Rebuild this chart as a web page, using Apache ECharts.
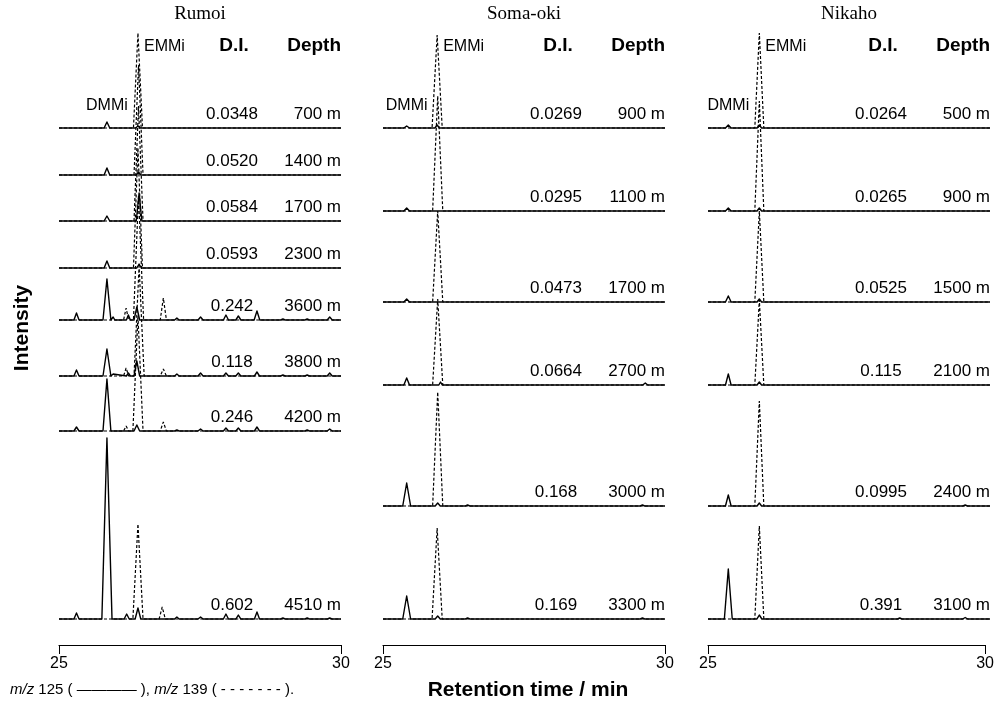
<!DOCTYPE html>
<html><head><meta charset="utf-8">
<script src="https://cdn.jsdelivr.net/npm/echarts@6/dist/echarts.min.js"></script>
<style>html,body{margin:0;padding:0;background:#fff}#c{width:997px;height:706px}</style>
</head><body><div id="c"></div>
<script>
// ---------------- DATA ----------------
const panelTitles = ['Rumoi', 'Soma-oki', 'Nikaho'];
const xTicks = [25, 30];

// Peaks per trace: [retention time (min), relative intensity, half width (min)]
const rumoiDepths = ['700 m','1400 m','1700 m','2300 m','3600 m','3800 m','4200 m','4510 m'];
const rumoiDI = ['0.0348','0.0520','0.0584','0.0593','0.242','0.118','0.246','0.602'];
const rumoi125 = [
  [[25.85,6,0.05],[26.40,2,0.04]],
  [[25.85,7,0.05],[26.41,3,0.04]],
  [[25.85,5,0.05],[26.42,28,0.05]],
  [[25.85,7,0.05],[26.42,4,0.04]],
  [[25.31,7,0.045],[25.85,41,0.07],[25.96,3,0.03],[26.23,5,0.035],[26.38,13,0.05],[27.09,2,0.04],[27.51,3,0.045],[27.96,5,0.045],[28.18,4,0.045],[28.51,9,0.05],[28.97,1,0.04],[29.40,1,0.04],[29.80,3,0.045]],
  [[25.31,6,0.045],[25.85,27,0.07],[25.96,2,0.03],[26.23,3,0.035],[26.38,15,0.05],[27.09,2,0.04],[27.51,3,0.045],[27.96,3,0.045],[28.18,3,0.045],[28.51,4,0.045],[28.97,1,0.04],[29.40,1,0.04],[29.80,3,0.045]],
  [[25.31,4,0.045],[25.85,52,0.07],[26.38,6,0.05],[27.09,1,0.04],[27.51,2,0.045],[27.96,3,0.045],[28.18,3,0.045],[28.51,4,0.045],[29.40,1,0.04],[29.80,2,0.045]],
  [[25.31,6,0.045],[25.85,181,0.09],[26.20,5,0.045],[26.40,11,0.05],[27.09,2,0.04],[27.51,2,0.045],[27.96,5,0.045],[28.18,4,0.045],[28.51,7,0.045],[28.97,1,0.04],[29.40,1,0.04],[29.80,1,0.04]]
];
const rumoi139 = [
  [[26.40,95,0.08]],
  [[26.41,110,0.08]],
  [[26.41,115,0.08]],
  [[26.40,120,0.08]],
  [[26.19,12,0.045],[26.41,125,0.09],[26.85,22,0.055]],
  [[26.19,8,0.045],[26.42,110,0.09],[26.85,7,0.055]],
  [[26.19,5,0.045],[26.40,115,0.09],[26.85,9,0.055]],
  [[26.40,95,0.09],[26.83,12,0.055]]
];

const somaDepths = ['900 m','1100 m','1700 m','2700 m','3000 m','3300 m'];
const somaDI = ['0.0269','0.0295','0.0473','0.0664','0.168','0.169'];
const soma125 = [
  [[25.42,2,0.05],[25.96,3,0.04]],
  [[25.42,3,0.05],[25.92,2,0.03],[26.02,2,0.03]],
  [[25.42,3,0.05],[25.92,2,0.03],[26.02,2,0.03]],
  [[25.42,7,0.05],[25.92,2,0.03],[26.02,3,0.03],[29.65,2,0.045]],
  [[25.42,23,0.07],[25.97,3,0.045],[26.50,1,0.04],[29.60,1,0.04]],
  [[25.42,23,0.07],[25.97,3,0.045],[26.50,1,0.04],[29.60,1,0.04]]
];
const soma139 = [
  [[25.96,93,0.09]],
  [[25.97,115,0.09]],
  [[25.97,91,0.09]],
  [[25.97,86,0.09]],
  [[25.97,114,0.09]],
  [[25.96,91,0.09]]
];

const nikahoDepths = ['500 m','900 m','1500 m','2100 m','2400 m','3100 m'];
const nikahoDI = ['0.0264','0.0265','0.0525','0.115','0.0995','0.391'];
const nikaho125 = [
  [[25.36,3,0.05],[25.91,3,0.04]],
  [[25.36,3,0.05],[25.91,3,0.04]],
  [[25.36,6,0.05],[25.91,3,0.04]],
  [[25.36,11,0.05],[25.91,3,0.04]],
  [[25.36,11,0.05],[25.91,3,0.04],[29.56,1,0.04]],
  [[25.36,50,0.07],[25.91,4,0.045],[28.40,1,0.04],[29.56,1.5,0.045]]
];
const nikaho139 = [
  [[25.91,95,0.08]],
  [[25.91,110,0.08]],
  [[25.91,91,0.08]],
  [[25.91,85,0.08]],
  [[25.91,105,0.08]],
  [[25.91,93,0.08]]
];
const peakNames = ['DMMi', 'EMMi'];
const peakRT = [[25.85, 26.40], [25.42, 25.96], [25.36, 25.91]];

// ---------------- LAYOUT ----------------
const panels = [
  {left: 59, baselines: [128,175,221,268,320,376,431,619], depths: rumoiDepths, di: rumoiDI, s125: rumoi125, s139: rumoi139},
  {left: 383, baselines: [128,211,302,385,506,619], depths: somaDepths, di: somaDI, s125: soma125, s139: soma139},
  {left: 708, baselines: [128,211,302,385,506,619], depths: nikahoDepths, di: nikahoDI, s125: nikaho125, s139: nikaho139}
];
const PW = 282, GH = 100, AXIS_Y = 645;
const FONT = '"Liberation Sans", Arial, sans-serif';
const SERIF = '"Liberation Serif", "Times New Roman", serif';

function trace(peaks) {
  const pts = [[25, 0]];
  peaks.slice().sort((a, b) => a[0] - b[0]).forEach(p => {
    pts.push([p[0] - p[2], 0], [p[0], p[1]], [p[0] + p[2], 0]);
  });
  pts.push([30, 0]);
  return pts;
}

const grid = [], xAxis = [], yAxis = [], series = [];
panels.forEach((p, pi) => {
  p.gridStart = grid.length;
  p.baselines.forEach((b, ti) => {
    const gi = grid.length;
    grid.push({left: p.left, width: PW, top: b - GH, height: GH, containLabel: false});
    xAxis.push({gridIndex: gi, type: 'value', min: 25, max: 30, show: false});
    yAxis.push({gridIndex: gi, type: 'value', min: 0, max: GH, show: false});
    series.push({type: 'line', xAxisIndex: gi, yAxisIndex: gi, data: trace(p.s125[ti]), showSymbol: false, clip: false,
      lineStyle: {color: '#000', width: 1.4, join: 'round'}, z: 2, silent: true, animation: false});
    series.push({type: 'line', xAxisIndex: gi, yAxisIndex: gi, data: trace(p.s139[ti]), showSymbol: false, clip: false,
      lineStyle: {color: '#000', width: 1.2, type: [3, 2]}, z: 3, silent: true, animation: false});
  });
  p.axisGrid = grid.length;
  grid.push({left: p.left, width: PW, top: AXIS_Y - 20, height: 20});
  xAxis.push({gridIndex: p.axisGrid, type: 'value', min: xTicks[0], max: xTicks[1], interval: 5,
    axisLine: {show: true, lineStyle: {color: '#000', width: 1.2}},
    axisTick: {show: true, inside: false, length: 9, lineStyle: {color: '#000', width: 1}},
    axisLabel: {show: true, color: '#000', fontFamily: FONT, fontSize: 16, margin: 11},
    splitLine: {show: false}});
  yAxis.push({gridIndex: p.axisGrid, type: 'value', show: false});
  series.push({type: 'line', xAxisIndex: p.axisGrid, yAxisIndex: p.axisGrid, data: [], silent: true});
});

const chart = echarts.init(document.getElementById('c'), null, {renderer: 'canvas'});
chart.setOption({animation: false, backgroundColor: '#fff', grid, xAxis, yAxis, series});

// ---------------- TEXTS ----------------
const g = [];
const txt = (x, y, text, o = {}) => g.push({type: 'text', x, y, silent: true,
  style: Object.assign({text, fill: '#000', font: '15px ' + FONT, textAlign: 'left', textVerticalAlign: 'middle'}, o)});

panels.forEach((p, pi) => {
  const gi0 = p.gridStart;
  txt(p.left + PW / 2, 14, panelTitles[pi], {font: '19px ' + SERIF, textAlign: 'center'});
  txt(p.left + 175, 46, 'D.I.', {font: 'bold 19px ' + FONT, textAlign: 'center'});
  txt(p.left + PW, 46, 'Depth', {font: 'bold 19px ' + FONT, textAlign: 'right'});
  const e = chart.convertToPixel({gridIndex: gi0}, [peakRT[pi][1], 0]);
  txt(e[0] + 6, 47, peakNames[1], {font: '16px ' + FONT});
  const d = chart.convertToPixel({gridIndex: gi0}, [peakRT[pi][0], 0]);
  txt(d[0], 106, peakNames[0], {font: '16px ' + FONT, textAlign: 'center'});
  p.baselines.forEach((b, ti) => {
    txt(p.left + 173, b - 14, p.di[ti], {font: '17px ' + FONT, textAlign: 'center'});
    txt(p.left + PW, b - 14, p.depths[ti], {font: '17px ' + FONT, textAlign: 'right'});
  });
});
txt(22, 328, 'Intensity', {font: 'bold 21px ' + FONT, textAlign: 'center'});
g[g.length - 1].rotation = Math.PI / 2;
txt(528, 690, 'Retention time / min', {font: 'bold 21px ' + FONT, textAlign: 'center'});
g.push({type: 'text', x: 10, y: 690, silent: true, style: {
  text: '{i|m/z} 125 ( ———— ), {i|m/z} 139 ( - - - - - - - ).', fill: '#000', font: '15px ' + FONT, textVerticalAlign: 'middle',
  rich: {i: {fontStyle: 'italic', fontSize: 15, fontFamily: FONT}}}});
chart.setOption({graphic: g});
</script></body></html>
